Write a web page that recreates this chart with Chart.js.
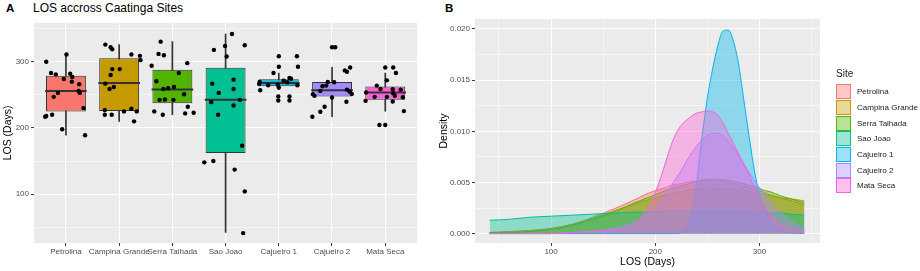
<!DOCTYPE html>
<html>
<head>
<meta charset="utf-8">
<script src="https://cdn.jsdelivr.net/npm/chart.js@4.4.1/dist/chart.umd.min.js"></script>
<style>
  body { margin: 0; width: 920px; height: 271px; background: #fff; position: relative; overflow: hidden;
         font-family: "Liberation Sans", Arial, sans-serif; }
  .tag { position: absolute; top: 2px; font-size: 11.5px; font-weight: bold; line-height: 12px; color: #000; }
  .title { position: absolute; top: 2px; left: 33px; font-size: 12px; line-height: 12px; color: #000; }
  #boxWrap { position: absolute; left: 0; top: 0; width: 440px; height: 271px; }
  #densWrap { position: absolute; left: 436px; top: 0; width: 484px; height: 271px; }
  #legend { position: absolute; left: 836px; top: 68px; font-size: 8px; color: #1a1a1a; }
  #legend .head { font-size: 10px; height: 16px; line-height: 12px; }
  #legend .row { display: flex; align-items: center; height: 15.7px; }
  #legend .key { width: 13px; height: 13px; border: 1px solid; margin-right: 6px; }
</style>
</head>
<body>
<div class="tag" style="left:6px">A</div>
<div class="title">LOS accross Caatinga Sites</div>
<div class="tag" style="left:445px">B</div>
<div id="boxWrap"><canvas id="boxChart" width="440" height="271"></canvas></div>
<div id="densWrap"><canvas id="densChart" width="484" height="271"></canvas></div>
<div id="legend"></div>

<script>
const sites = ["Petrolina", "Campina Grande", "Serra Talhada", "Sao Joao", "Cajueiro 1", "Cajueiro 2", "Mata Seca"];
const siteColors = ["#F8766D", "#C49A00", "#53B400", "#00C094", "#00B6EB", "#A58AFF", "#FB61D7"];

// boxplot stats (LOS, days)
const q1 = [225, 225.5, 237.5, 162, 263, 247.5, 242.5];
const medians = [256, 268, 258, 242.5, 268, 257, 253.5];
const q3 = [279, 305.5, 288, 291, 273.5, 269.5, 262.5];
const whiskerLow = [189, 210, 220, 42, 258, 217, 225.5];
const whiskerHigh = [311, 326, 330.5, 342, 283, 291.5, 283];

// jittered observations per site, and their horizontal jitter
const losPetrolina = [300, 311, 283, 281, 282, 274, 277, 270, 266, 253, 247, 256, 253, 230, 220, 217, 218, 198, 189];
const jitPetrolina = [-0.37, 0.01, -0.28, -0.19, 0.08, -0.04, 0.12, 0.11, 0.25, -0.15, -0.23, 0.24, 0.26, 0.33, -0.26, -0.39, -0.37, -0.07, 0.36];
const losCampina = [326, 322, 319, 311, 309, 302.5, 289, 289, 280, 267, 262, 259, 227, 225, 229, 225, 220, 220, 210];
const jitCampina = [-0.26, -0.16, -0.13, 0.23, 0.39, 0.40, -0.13, 0.01, -0.16, -0.26, -0.10, -0.18, -0.27, 0.09, 0.23, 0.33, -0.27, -0.14, 0.28];
const losSerra = [330.5, 312, 310, 294, 298, 283, 270.5, 259, 260, 262, 251, 242.5, 243, 242.5, 225, 220, 232, 222, 223];
const jitSerra = [-0.22, -0.26, -0.16, -0.39, 0.28, 0.12, -0.30, -0.17, -0.08, 0.03, 0.22, -0.24, -0.14, 0.02, -0.34, -0.18, 0.29, 0.24, 0.40];
const losSaoJoao = [342, 324, 325, 318, 308, 273, 267, 259, 253, 242.5, 239, 234, 220, 173, 148, 150, 137, 104, 41];
const jitSaoJoao = [0.12, -0.01, 0.36, -0.22, 0.02, 0.15, -0.25, 0.15, -0.13, 0.27, -0.27, 0.15, -0.14, 0.31, -0.40, -0.23, 0.17, 0.36, 0.33];
const losCajueiro1 = [308.5, 308.5, 292.5, 292.5, 283, 271.5, 275.5, 274.5, 269.5, 266.5, 264.5, 265.5, 269, 264.5, 257, 261, 247.5, 241.5, 247.5, 241.5];
const jitCajueiro1 = [0, 0.34, 0, 0.36, -0.10, 0.09, 0.20, 0.23, -0.36, -0.37, -0.20, -0.02, 0.16, 0.35, -0.35, 0, -0.01, -0.01, 0.20, 0.20];
const losCajueiro2 = [322, 322, 291.5, 287, 285, 269.5, 269, 264, 263, 256, 258, 255, 251.5, 251, 248.5, 246, 239.5, 232, 224.5, 217];
const jitCajueiro2 = [0, 0.06, 0.34, 0.24, 0.28, -0.08, 0.04, -0.11, -0.18, -0.22, 0.28, 0.33, 0.37, -0.36, -0.33, 0, 0.27, -0.14, -0.22, -0.37];
const losMataSeca = [291.5, 291.5, 283, 272, 264, 259, 258.5, 258, 253.5, 247, 247, 252.5, 248.5, 246.5, 241, 240, 225.5, 204.5, 204.5];
const jitMataSeca = [0, 0.15, 0.20, 0.03, -0.16, -0.09, 0.14, 0.29, -0.36, -0.20, 0.03, 0.15, 0.18, 0.33, -0.37, 0.14, 0.35, -0.11, 0];

const losBySite = [losPetrolina, losCampina, losSerra, losSaoJoao, losCajueiro1, losCajueiro2, losMataSeca];
const jitBySite = [jitPetrolina, jitCampina, jitSerra, jitSaoJoao, jitCajueiro1, jitCajueiro2, jitMataSeca];

// density curves, read at these LOS values
const densX = [41, 60, 80, 100, 120, 140, 160, 180, 190, 200, 210, 215, 220, 225, 230, 235, 240, 245, 250, 255, 260, 265, 270, 275, 280, 285, 290, 295, 300, 305, 310, 320, 330, 343];
const densPetrolina = [0.0001, 0.0002, 0.0003, 0.0005, 0.0009, 0.0016, 0.0024, 0.0033, 0.0038, 0.0042, 0.0045, 0.0047, 0.0048, 0.0049, 0.0050, 0.0051, 0.0051, 0.0052, 0.0052, 0.0052, 0.0051, 0.0051, 0.0050, 0.0049, 0.0048, 0.0046, 0.0045, 0.0043, 0.0042, 0.0040, 0.0038, 0.0035, 0.0032, 0.0028];
const densCampina = [0.0001, 0.0002, 0.0003, 0.0005, 0.0009, 0.0015, 0.0022, 0.0029, 0.0032, 0.0035, 0.0038, 0.0039, 0.0040, 0.0041, 0.0042, 0.0043, 0.0043, 0.0044, 0.0044, 0.0044, 0.0044, 0.0044, 0.0043, 0.0043, 0.0042, 0.0042, 0.0041, 0.0040, 0.0039, 0.0038, 0.0037, 0.0035, 0.0034, 0.0032];
const densSerra = [0.0001, 0.0001, 0.0002, 0.0004, 0.0008, 0.0014, 0.0021, 0.0030, 0.0034, 0.0038, 0.0042, 0.0044, 0.0045, 0.0047, 0.0048, 0.0050, 0.0051, 0.0052, 0.0053, 0.0053, 0.0053, 0.0053, 0.0052, 0.0051, 0.0050, 0.0049, 0.0047, 0.0046, 0.0044, 0.0042, 0.0041, 0.0037, 0.0034, 0.0030];
const densSaoJoao = [0.0013, 0.0014, 0.0016, 0.0017, 0.0018, 0.0019, 0.0020, 0.0021, 0.0021, 0.0021, 0.0022, 0.0022, 0.0022, 0.0022, 0.0022, 0.0022, 0.0022, 0.0022, 0.0022, 0.0022, 0.0022, 0.0022, 0.0022, 0.0022, 0.0022, 0.0022, 0.0021, 0.0021, 0.0021, 0.0021, 0.0020, 0.0020, 0.0019, 0.0018];
const densCajueiro1 = [0, 0, 0, 0, 0, 0, 0, 0, 0, 0, 0, 0, 0, 0.0001, 0.0005, 0.0019, 0.0052, 0.0096, 0.0133, 0.0161, 0.0184, 0.0198, 0.0199, 0.0188, 0.0165, 0.0130, 0.0095, 0.0062, 0.0038, 0.0023, 0.0013, 0.0004, 0.0001, 0];
const densCajueiro2 = [0, 0, 0, 0, 0.0001, 0.0002, 0.0005, 0.0011, 0.0017, 0.0025, 0.0038, 0.0046, 0.0054, 0.0062, 0.0071, 0.0079, 0.0086, 0.0092, 0.0096, 0.0098, 0.0098, 0.0096, 0.0090, 0.0084, 0.0076, 0.0068, 0.0060, 0.0052, 0.0045, 0.0038, 0.0031, 0.0020, 0.0012, 0.0005];
const densMataSeca = [0, 0, 0, 0, 0.0001, 0.0002, 0.0003, 0.0009, 0.0021, 0.0040, 0.0070, 0.0086, 0.0098, 0.0106, 0.0111, 0.0115, 0.0118, 0.0119, 0.0120, 0.0119, 0.0116, 0.0108, 0.0098, 0.0088, 0.0078, 0.0068, 0.0057, 0.0045, 0.0035, 0.0026, 0.0019, 0.0010, 0.0005, 0.0002];
const densBySite = [densPetrolina, densCampina, densSerra, densSaoJoao, densCajueiro1, densCajueiro2, densMataSeca];

const boxTicks = [50, 100, 150, 200, 250, 300, 350];
const densYTicks = [0, 0.0025, 0.005, 0.0075, 0.01, 0.0125, 0.015, 0.0175, 0.02];
const densXTicks = [50, 100, 150, 200, 250, 300, 350];

function withAlpha(hex, a) {
  const n = parseInt(hex.slice(1), 16);
  return `rgba(${n >> 16}, ${(n >> 8) & 255}, ${n & 255}, ${a})`;
}

// grey ggplot panel
const panelBg = {
  id: "panelBg",
  beforeDraw(chart) {
    const { ctx, chartArea: a } = chart;
    ctx.save();
    ctx.fillStyle = "#EBEBEB";
    ctx.fillRect(a.left, a.top, a.width, a.height);
    ctx.restore();
  }
};

const tickFont = { family: "'Liberation Sans', Arial, sans-serif", size: 8 };
const titleFont = { family: "'Liberation Sans', Arial, sans-serif", size: 10.5 };

// major ticks get labels and marks, minor ones only a thin grid line
function ggGrid() {
  return {
    color: "#FFFFFF",
    lineWidth: c => (c.tick && c.tick.minor ? 0.5 : 1.1),
    tickColor: c => (c.tick && c.tick.minor ? "rgba(0,0,0,0)" : "#333333"),
    tickLength: 3,
    tickWidth: 1
  };
}
function setTicks(values, isMajor) {
  return scale => {
    scale.ticks = values.map(v => ({ value: v, minor: !isMajor(v) }));
  };
}

// ---------- Panel A: boxplot ----------
const whiskerData = sites.map((s, i) => ({ x: i, y: [whiskerLow[i], whiskerHigh[i]] }));
const boxData = sites.map((s, i) => ({ x: i, y: [q1[i], q3[i]] }));
const medianData = sites.map((s, i) => ({ x: i, y: medians[i] }));
const pointData = [];
losBySite.forEach((vals, i) => {
  vals.forEach((v, j) => pointData.push({ x: i + jitBySite[i][j], y: v }));
});

new Chart(document.getElementById("boxChart"), {
  type: "bar",
  data: {
    datasets: [
      { type: "scatter", data: pointData, backgroundColor: "#000", borderColor: "#000",
        pointRadius: 2.2, borderWidth: 0, order: 0 },
      { type: "scatter", data: medianData, pointStyle: "line", pointRadius: 20.8,
        borderColor: "#333333", borderWidth: 2, order: 1 },
      { type: "bar", data: boxData, backgroundColor: siteColors, borderColor: "#333333",
        borderWidth: 1, borderSkipped: false, grouped: false,
        barPercentage: 0.75, categoryPercentage: 1, order: 2 },
      { type: "bar", data: whiskerData, backgroundColor: "#333333", barThickness: 1,
        grouped: false, order: 3 }
    ]
  },
  options: {
    responsive: false,
    animation: false,
    layout: { padding: { top: 18, right: 8, left: 0, bottom: 0 } },
    plugins: { legend: { display: false }, tooltip: { enabled: false } },
    scales: {
      x: {
        type: "linear", min: -0.6, max: 6.6, offset: false,
        afterBuildTicks: setTicks([0, 1, 2, 3, 4, 5, 6], () => true),
        afterFit: s => { s.height = 28; },
        grid: { ...ggGrid(), offset: false },
        border: { display: false },
        ticks: { font: tickFont, color: "#4D4D4D", padding: 1, autoSkip: false, maxRotation: 0,
                 callback: v => sites[v] }
      },
      y: {
        min: 26, max: 359,
        afterBuildTicks: setTicks(boxTicks, v => v % 100 === 0),
        afterFit: s => { s.width = 34; },
        grid: ggGrid(),
        border: { display: false },
        ticks: { font: tickFont, color: "#4D4D4D", padding: 2,
                 callback: (v, i, t) => (t[i].minor ? "" : String(v)) },
        title: { display: true, text: "LOS (Days)", font: titleFont, color: "#000",
                 padding: { top: 2, bottom: 0 } }
      }
    }
  },
  plugins: [panelBg]
});

// ---------- Panel B: density ----------
new Chart(document.getElementById("densChart"), {
  type: "line",
  data: {
    datasets: sites.map((s, i) => ({
      label: s,
      data: densX.map((x, k) => ({ x: x, y: densBySite[i][k] })),
      borderColor: siteColors[i],
      backgroundColor: withAlpha(siteColors[i], 0.4),
      borderWidth: 1,
      pointRadius: 0,
      fill: "origin",
      cubicInterpolationMode: "monotone",
      order: sites.length - i
    }))
  },
  options: {
    responsive: false,
    animation: false,
    layout: { padding: { top: 19, right: 100, left: 0, bottom: 0 } },
    plugins: { legend: { display: false }, tooltip: { enabled: false } },
    scales: {
      x: {
        type: "linear", min: 27, max: 358,
        afterBuildTicks: setTicks(densXTicks, v => v % 100 === 0),
        afterFit: s => { s.height = 28; },
        grid: ggGrid(),
        border: { display: false },
        ticks: { font: tickFont, color: "#4D4D4D", padding: 1, maxRotation: 0,
                 callback: (v, i, t) => (t[i].minor ? "" : String(v)) },
        title: { display: true, text: "LOS (Days)", font: titleFont, color: "#000",
                 padding: { top: 0, bottom: 3 } }
      },
      y: {
        min: -0.00092, max: 0.02098,
        afterBuildTicks: setTicks(densYTicks, v => Math.round(v * 10000) % 50 === 0),
        afterFit: s => { s.width = 39; },
        grid: ggGrid(),
        border: { display: false },
        ticks: { font: tickFont, color: "#4D4D4D", padding: 2,
                 callback: (v, i, t) => (t[i].minor ? "" : v.toFixed(3)) },
        title: { display: true, text: "Density", font: titleFont, color: "#000",
                 padding: { top: 2, bottom: 0 } }
      }
    }
  },
  plugins: [panelBg]
});

// legend built from the same site arrays
const legend = document.getElementById("legend");
legend.innerHTML = '<div class="head">Site</div>' + sites.map((s, i) =>
  `<div class="row"><div class="key" style="border-color:${siteColors[i]};background:${withAlpha(siteColors[i], 0.4)}"></div>${s}</div>`
).join("");
</script>
</body>
</html>
